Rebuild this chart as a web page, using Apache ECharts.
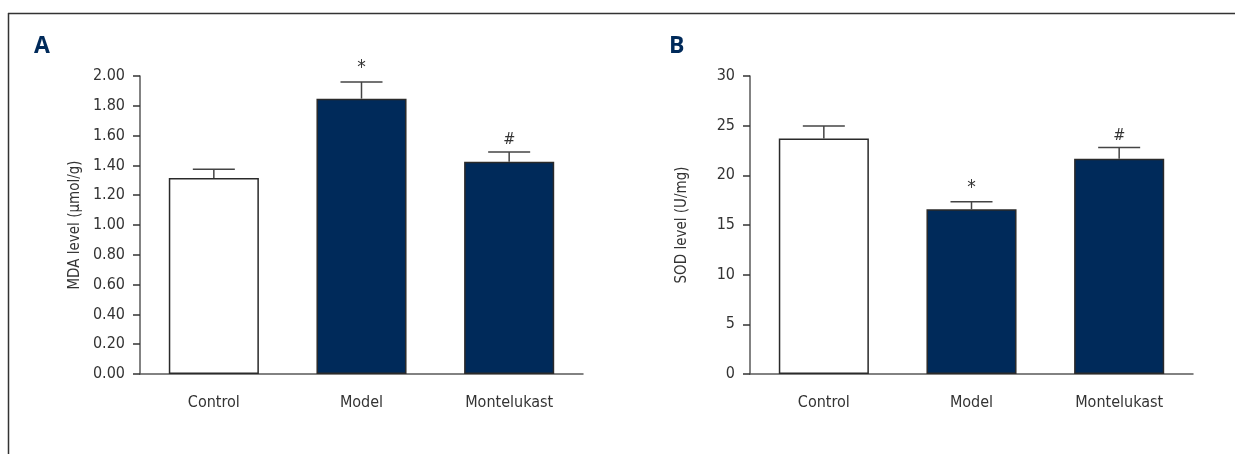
<!DOCTYPE html>
<html>
<head>
<meta charset="utf-8">
<script src="https://cdn.jsdelivr.net/npm/echarts@6/dist/echarts.min.js"></script>
<style>
  html, body { margin: 0; padding: 0; background: #fff; }
  #main { width: 1235px; height: 454px; }
</style>
</head>
<body>
<div id="main"></div>
<script>
// groups on the x axis
const categories = ["Control", "Model", "Montelukast"];

// panel A: MDA level (µmol/g)
const mdaMean = [1.315, 1.848, 1.425];
const mdaErr = [0.06, 0.112, 0.065];
const mdaMarks = ["", "*", "#"];
const mdaTicks = [0, 0.2, 0.4, 0.6, 0.8, 1.0, 1.2, 1.4, 1.6, 1.8, 2.0];

// panel B: SOD level (U/mg)
const sodMean = [23.7, 16.58, 21.68];
const sodErr = [1.27, 0.77, 1.11];
const sodMarks = ["", "*", "#"];
const sodTicks = [0, 5, 10, 15, 20, 25, 30];

const NAVY = "#002a5a";
const AXIS = "#5a5a5a";
const FONT = "'Liberation Sans Narrow', 'DejaVu Sans Condensed', sans-serif";

var chartDom = document.getElementById("main");
var myChart = echarts.init(chartDom);

function barColors(i) {
  return i === 0 ? "#ffffff" : NAVY;
}

function errorSeries(axisIdx, mean, err, marks) {
  return {
    type: "custom",
    xAxisIndex: axisIdx,
    yAxisIndex: axisIdx,
    z: 3,
    silent: true,
    data: mean.map((m, i) => [i, m, m + err[i]]),
    renderItem: (params, api) => {
      var p0 = api.coord([api.value(0), api.value(1)]);
      var p1 = api.coord([api.value(0), api.value(2)]);
      var half = 21;
      var children = [
        { type: "line", shape: { x1: p0[0], y1: p0[1], x2: p1[0], y2: p1[1] },
          style: { stroke: "#444", lineWidth: 1.5 } },
        { type: "line", shape: { x1: p1[0] - half, y1: p1[1], x2: p1[0] + half, y2: p1[1] },
          style: { stroke: "#444", lineWidth: 1.5 } },
      ];
      var mark = marks[params.dataIndex];
      if (mark) {
        children.push({
          type: "text",
          style: {
            text: mark, x: p1[0], y: p1[1] - 4,
            align: "center", verticalAlign: "bottom",
            fill: "#333", font: (mark === "*" ? "19px " : "16px ") + FONT,
          },
        });
      }
      return { type: "group", children: children };
    },
  };
}

function xAxis(gridIdx) {
  return {
    type: "category",
    gridIndex: gridIdx,
    data: categories,
    axisLine: { lineStyle: { color: AXIS, width: 1.5 } },
    axisTick: { alignWithLabel: true, length: 7, lineStyle: { color: "#333", width: 1.5 } },
    axisLabel: { color: "#333", fontSize: 16, fontFamily: FONT, margin: 21 },
  };
}

function yAxis(gridIdx, ticks, name, digits, nameGap) {
  return {
    type: "value",
    gridIndex: gridIdx,
    min: ticks[0],
    max: ticks[ticks.length - 1],
    interval: ticks[1] - ticks[0],
    name: name,
    nameLocation: "middle",
    nameGap: nameGap,
    nameTextStyle: { color: "#333", fontSize: 15, fontFamily: FONT },
    splitLine: { show: false },
    axisLine: { show: true, lineStyle: { color: AXIS, width: 1.5 } },
    axisTick: { show: true, length: 7, lineStyle: { color: "#333", width: 1.5 } },
    axisLabel: {
      color: "#333", fontSize: 16, fontFamily: FONT, margin: 15,
      formatter: (v) => v.toFixed(digits),
    },
  };
}

var option = {
  animation: false,
  grid: [
    { left: 140, top: 76, width: 443, height: 298 },
    { left: 750, top: 76, width: 443, height: 298 },
  ],
  xAxis: [xAxis(0), xAxis(1)],
  yAxis: [
    yAxis(0, mdaTicks, "MDA level (μmol/g)", 2, 57),
    yAxis(1, sodTicks, "SOD level (U/mg)", 0, 60),
  ],
  graphic: [
    { type: "line", shape: { x1: 8, y1: 13.5, x2: 1235, y2: 13.5 },
      style: { stroke: "#333", lineWidth: 1.5 } },
    { type: "line", shape: { x1: 8.5, y1: 13, x2: 8.5, y2: 454 },
      style: { stroke: "#333", lineWidth: 1.5 } },
    { type: "text", left: 34, top: 35,
      style: { text: "A", fill: NAVY, font: "bold 23px 'Open Sans', sans-serif" } },
    { type: "text", left: 669, top: 35,
      style: { text: "B", fill: NAVY, font: "bold 23px 'Open Sans', sans-serif" } },
  ],
  series: [
    {
      type: "bar",
      xAxisIndex: 0,
      yAxisIndex: 0,
      barWidth: "61%",
      z: 2,
      data: mdaMean.map((v, i) => ({
        value: v,
        itemStyle: { color: barColors(i), borderColor: "#2a2a2a", borderWidth: 1.5 },
      })),
    },
    errorSeries(0, mdaMean, mdaErr, mdaMarks),
    {
      type: "bar",
      xAxisIndex: 1,
      yAxisIndex: 1,
      barWidth: "61%",
      z: 2,
      data: sodMean.map((v, i) => ({
        value: v,
        itemStyle: { color: barColors(i), borderColor: "#2a2a2a", borderWidth: 1.5 },
      })),
    },
    errorSeries(1, sodMean, sodErr, sodMarks),
  ],
};

option && myChart.setOption(option);
</script>
</body>
</html>
